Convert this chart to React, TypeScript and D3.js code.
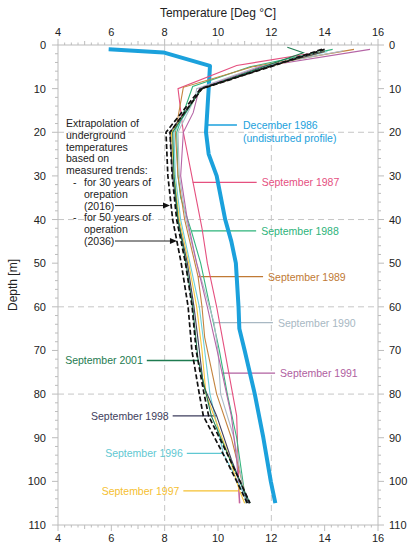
import * as d3 from "d3";

// [depth m, temperature °C]
type Pt = [number, number];

const X_TICKS = [4, 6, 8, 10, 12, 14, 16];
const Y_TICKS = [0, 10, 20, 30, 40, 50, 60, 70, 80, 90, 100, 110];
const X_GRID = [8, 12];
const Y_GRID = [20, 40, 60, 80];

const DEC_1986: Pt[] = [
  [1, 5.9], [1.7, 7.95], [4.8, 9.7], [10, 9.65], [20, 9.55], [25, 9.65], [30, 9.95],
  [40, 10.27], [45, 10.5], [50, 10.67], [60, 10.77], [65, 10.8], [70, 11.0],
  [80, 11.38], [90, 11.7], [100, 11.98], [105, 12.15],
];
const SEP_1987: Pt[] = [
  [2, 13.4], [4.7, 10.7], [10, 8.5], [20, 8.7], [31, 9.05], [42, 9.4], [50, 9.6],
  [60, 9.95], [70, 10.25], [80, 10.55], [85, 10.7], [95, 10.75], [105, 10.8],
];
const SEP_1988: Pt[] = [
  [1, 14.3], [5, 11.2], [9.5, 9.05], [20, 8.45], [30, 8.5], [35, 8.6], [42.6, 9.0],
  [50, 9.35], [60, 9.7], [70, 10.05], [80, 10.35], [90, 10.7], [105, 11.05],
];
const SEP_1989: Pt[] = [
  [1, 15.1], [5, 11.3], [9.7, 8.7], [20, 8.4], [30, 8.5], [40, 8.75], [53, 9.25],
  [60, 9.4], [67, 9.5], [80, 9.95], [90, 10.5], [105, 11.1],
];
const SEP_1990: Pt[] = [
  [1.3, 14.7], [5, 11.5], [10, 9.2], [12, 9.15], [20, 8.5], [30, 8.55], [40, 8.8],
  [50, 9.2], [63.6, 9.85], [70, 10.0], [80, 10.1], [90, 10.6], [105, 11.05],
];
const SEP_1991: Pt[] = [
  [1, 15.7], [5, 11.6], [10, 9.3], [15.5, 9.07], [20, 8.7], [30, 8.6], [40, 8.85],
  [50, 9.2], [60, 9.6], [75, 10.15], [85, 10.5], [95, 10.7], [105, 10.82],
];
const SEP_1996: Pt[] = [
  [1.5, 14.1], [5, 11.8], [10, 9.35], [20, 8.35], [30, 8.4], [40, 8.6], [50, 8.95],
  [60, 9.3], [70, 9.5], [80, 9.7], [93.6, 10.2], [105, 11.15],
];
const SEP_1997: Pt[] = [
  [1.5, 14.0], [5, 11.9], [10, 9.4], [20, 8.25], [30, 8.35], [40, 8.55], [50, 8.9],
  [60, 9.2], [70, 9.4], [80, 9.55], [85, 9.85], [95, 10.45], [102, 10.8], [105, 11.0],
];
const SEP_1998: Pt[] = [
  [1.5, 14.0], [5, 11.85], [10, 9.4], [20, 8.2], [30, 8.3], [40, 8.5], [50, 8.85],
  [60, 9.1], [70, 9.3], [78, 9.45], [85, 9.95], [95, 10.5], [105, 11.15],
];
const SEP_2001: Pt[] = [
  [0.5, 12.6], [1.8, 13.2], [5, 11.7], [10, 9.38], [20, 8.3], [30, 8.35], [40, 8.5],
  [50, 8.8], [60, 9.05], [72, 9.25], [85, 9.75], [95, 10.45], [105, 11.2],
];
const EXTRAP_2016: Pt[] = [
  [1, 14.0], [5, 11.95], [10, 9.4], [15, 8.8], [20, 8.2], [30, 8.28], [40, 8.45],
  [50, 8.78], [60, 9.03], [70, 9.18], [80, 9.48], [85, 9.65], [95, 10.45], [105, 11.2],
];
const EXTRAP_2036: Pt[] = [
  [1, 13.9], [5, 11.9], [10, 9.35], [15, 8.7], [20, 8.05], [30, 8.12], [40, 8.3],
  [50, 8.62], [60, 8.88], [70, 9.02], [80, 9.3], [85, 9.45], [95, 10.3], [105, 11.1],
];

const SERIES = [
  { id: "1987", pts: SEP_1987, color: "#e5507f" },
  { id: "1988", pts: SEP_1988, color: "#34b57d" },
  { id: "1989", pts: SEP_1989, color: "#c4843f" },
  { id: "1990", pts: SEP_1990, color: "#aebdc8" },
  { id: "1991", pts: SEP_1991, color: "#b565a6" },
  { id: "1996", pts: SEP_1996, color: "#6ccfd8" },
  { id: "1997", pts: SEP_1997, color: "#f6c63c" },
  { id: "1998", pts: SEP_1998, color: "#40405c" },
  { id: "2001", pts: SEP_2001, color: "#1e7b50" },
];

// label: text, leader depth, leader from/to (°C), side of text
const LABELS = [
  { text: "September 1987", d: 31.5, t0: 9.05, t1: 11.45, side: "r", color: "#e5507f" },
  { text: "September 1988", d: 42.6, t0: 9.0, t1: 11.43, side: "r", color: "#2db37a" },
  { text: "September 1989", d: 53.1, t0: 9.25, t1: 11.69, side: "r", color: "#c07a35" },
  { text: "September 1990", d: 63.6, t0: 9.85, t1: 12.06, side: "r", color: "#a8b8c3" },
  { text: "September 1991", d: 75.2, t0: 10.14, t1: 12.14, side: "r", color: "#b060a0" },
  { text: "September 2001", d: 72.3, t0: 9.25, t1: 7.33, side: "l", color: "#1e7b50" },
  { text: "September 1998", d: 85, t0: 9.95, t1: 8.3, side: "l", color: "#3d3d5c" },
  { text: "September 1996", d: 93.6, t0: 10.18, t1: 8.83, side: "l", color: "#5fc8d2" },
  { text: "September 1997", d: 102.2, t0: 10.76, t1: 8.7, side: "l", color: "#f5c030" },
];

const NOTE_LINES = [
  "Extrapolation of",
  "underground",
  "temperatures",
  "based on",
  "measured trends:",
];
const NOTE_ITEMS = [
  ["for 30 years of", "orepation", "(2016)"],
  ["for 50 years of", "operation", "(2036)"],
];
const ARROW_TIPS = [8.2, 8.46];

const W = 408;
const H = 550;
const L = 58, R = 378, T = 45, B = 525;
const FONT = "'Liberation Sans', Arial, sans-serif";

export default function App() {
  const x = d3.scaleLinear().domain([4, 16]).range([L, R]);
  const y = d3.scaleLinear().domain([0, 110]).range([T, B]);
  const line = d3
    .line<Pt>()
    .x((p) => x(p[1]))
    .y((p) => y(p[0]));

  const xMinor = d3.range(4, 16.001, 0.25);
  const yMinor = d3.range(0, 110.001, 2);
  const axisCol = "#bcbcbc";

  const xLen = (v: number) => (Math.abs(v / 2 - Math.round(v / 2)) < 1e-6 ? 6 : Number.isInteger(v) ? 4 : 2.5);
  const yLen = (v: number) => (v % 10 === 0 ? 6 : 3);

  const noteX = 66;
  const noteY0 = 127;
  const lh = 11.8;

  return (
    <svg
      width={W}
      height={H}
      style={{ position: "absolute", left: 0, top: 0, background: "#fff" }}
      fontFamily={FONT}
    >
      <rect x={0} y={0} width={W} height={H} fill="#fff" />
      <text x={218} y={17} textAnchor="middle" fontSize={12} fill="#222">
        Temperature [Deg °C]
      </text>
      <text
        transform={`translate(17,${(T + B) / 2}) rotate(-90)`}
        textAnchor="middle"
        fontSize={12}
        fill="#222"
      >
        Depth [m]
      </text>

      {/* grid */}
      {X_GRID.map((v) => (
        <line key={`gx${v}`} x1={x(v)} x2={x(v)} y1={T} y2={B} stroke="#c6c6c6" strokeDasharray="6,4" />
      ))}
      {Y_GRID.map((v) => (
        <line key={`gy${v}`} x1={L} x2={R} y1={y(v)} y2={y(v)} stroke="#c6c6c6" strokeDasharray="6,4" />
      ))}

      {/* frame + ticks */}
      <rect x={L} y={T} width={R - L} height={B - T} fill="none" stroke={axisCol} />
      {xMinor.map((v) => (
        <g key={`tx${v}`} stroke={axisCol}>
          <line x1={x(v)} x2={x(v)} y1={T} y2={T - xLen(v)} />
          <line x1={x(v)} x2={x(v)} y1={B} y2={B + xLen(v)} />
        </g>
      ))}
      {yMinor.map((v) => (
        <g key={`ty${v}`} stroke={axisCol}>
          <line x1={L} x2={L - yLen(v)} y1={y(v)} y2={y(v)} />
          <line x1={R} x2={R + yLen(v)} y1={y(v)} y2={y(v)} />
        </g>
      ))}
      {X_TICKS.map((v) => (
        <g key={`lx${v}`} fontSize={11} fill="#222" textAnchor="middle">
          <text x={x(v)} y={36}>{v}</text>
          <text x={x(v)} y={542}>{v}</text>
        </g>
      ))}
      {Y_TICKS.map((v) => (
        <g key={`ly${v}`} fontSize={11} fill="#222">
          <text x={46} y={y(v) + 4} textAnchor="end">{v}</text>
          <text x={389} y={y(v) + 4}>{v}</text>
        </g>
      ))}

      {/* leaders and labels */}
      {LABELS.map((lb) => {
        const yy = y(lb.d);
        const tx = lb.side === "r" ? x(lb.t1) + 5 : x(lb.t1) - 4;
        return (
          <g key={lb.text}>
            <line x1={x(lb.t0)} x2={x(lb.t1)} y1={yy} y2={yy} stroke={lb.color} strokeWidth={1.3} />
            <text
              x={tx}
              y={yy + 4}
              fontSize={10.5}
              fill={lb.color}
              textAnchor={lb.side === "r" ? "start" : "end"}
            >
              {lb.text}
            </text>
          </g>
        );
      })}
      <line x1={x(9.62)} x2={x(10.71)} y1={125} y2={125} stroke="#1ba1dc" strokeWidth={1.5} />
      <text x={243} y={129} fontSize={10.5} fill="#1ba1dc">December 1986</text>
      <text x={243} y={141.5} fontSize={10.5} fill="#1ba1dc">(undisturbed profile)</text>

      {/* profiles */}
      <path d={line(DEC_1986) ?? ""} fill="none" stroke="#1ba1dc" strokeWidth={4} strokeLinejoin="round" />
      {SERIES.map((s) => (
        <path key={s.id} d={line(s.pts) ?? ""} fill="none" stroke={s.color} strokeWidth={1.1} />
      ))}
      {[EXTRAP_2036, EXTRAP_2016].map((pts, i) => (
        <path
          key={`ex${i}`}
          d={line(pts) ?? ""}
          fill="none"
          stroke="#111"
          strokeWidth={1.7}
          strokeDasharray="5,2.5"
        />
      ))}

      {/* note */}
      <g fontSize={10.5} fill="#222">
        {NOTE_LINES.map((t, i) => (
          <text key={t} x={noteX} y={noteY0 + i * lh}>{t}</text>
        ))}
        {NOTE_ITEMS.map((item, k) => {
          const base = noteY0 + (NOTE_LINES.length + k * 3) * lh;
          const ay = base + 2 * lh - 4;
          const tip = x(ARROW_TIPS[k]);
          return (
            <g key={k}>
              <text x={73} y={base}>-</text>
              {item.map((t, j) => (
                <text key={t} x={84} y={base + j * lh}>{t}</text>
              ))}
              <line x1={115} x2={tip - 6} y1={ay} y2={ay} stroke="#222" strokeWidth={1} />
              <path d={`M${tip},${ay} L${tip - 7},${ay - 3} L${tip - 7},${ay + 3} Z`} fill="#111" />
            </g>
          );
        })}
      </g>
    </svg>
  );
}
